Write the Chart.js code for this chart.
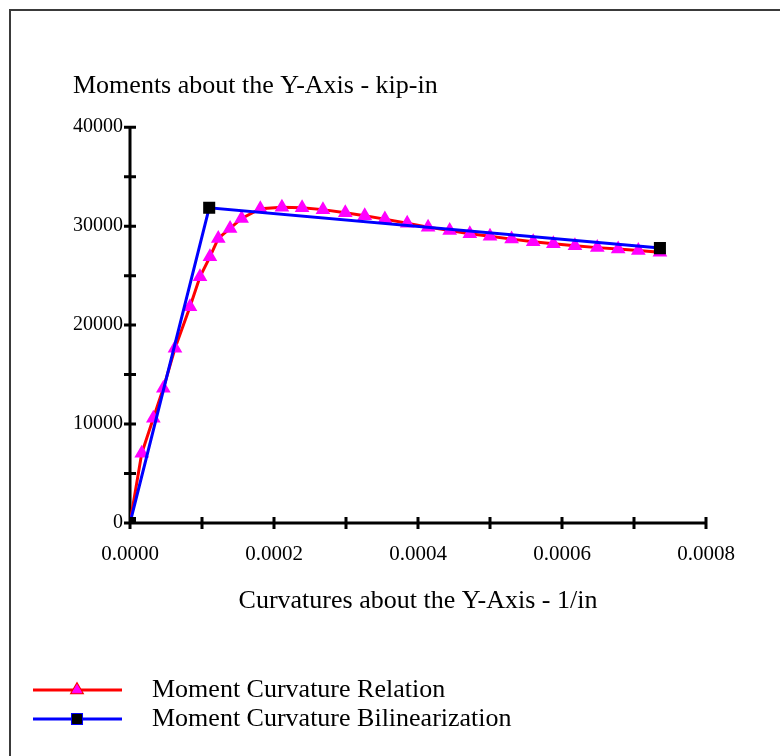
<!DOCTYPE html>
<html lang="en">
<head>
    <meta charset="UTF-8">
    <title>Moment Curvature - Y-Axis</title>
    <script src="https://cdn.jsdelivr.net/npm/chart.js"></script>
    <style>
        body { margin: 0; background: #fff; }
        .frame {
            position: absolute; left: 9px; top: 9px; width: 800px; height: 800px;
            border-left: 2px solid #3a3a3a; border-top: 2px solid #3a3a3a;
        }
        #momentChart { position: absolute; left: 0; top: 0; }
    </style>
</head>
<body>
<div class="frame"></div>
<canvas id="momentChart" width="780" height="756"></canvas>

<script>
    // curvature (1/in) and moment (kip-in)
    const relationCurvature = [0, 0.0000163, 0.0000324, 0.0000463, 0.0000625, 0.0000833, 0.0000972,
        0.000111, 0.0001226, 0.000139, 0.000155, 0.000181, 0.000211, 0.000239, 0.000268, 0.000299,
        0.000326, 0.000354, 0.000385, 0.000414, 0.000444, 0.000472, 0.0005, 0.00053, 0.00056,
        0.000588, 0.000618, 0.000649, 0.000678, 0.000706, 0.000736];
    const relationMoment = [0, 7040, 10580, 13610, 17650, 21850, 24880,
        26900, 28760, 29770, 30780, 31770, 31920, 31870, 31670, 31360,
        31060, 30710, 30300, 29900, 29550, 29240, 28990, 28690, 28430,
        28230, 28030, 27830, 27680, 27530, 27370];
    const bilinearCurvature = [0, 0.00011, 0.000736];
    const bilinearMoment = [0, 31850, 27780];

    const seriesNames = ['Moment Curvature Relation', 'Moment Curvature Bilinearization'];
    const xTitle = 'Curvatures about the Y-Axis - 1/in';
    const yTitle = 'Moments about the Y-Axis - kip-in';

    const serif = 'Liberation Serif';

    const toPoints = (xs, ys) => xs.map((x, i) => ({ x: x, y: ys[i] }));

    // axis lines with ticks crossing them, plus the legend at the bottom left
    const axesAndLegend = {
        id: 'axesAndLegend',
        beforeDatasetsDraw(chart) {
            const ctx = chart.ctx;
            const xs = chart.scales.x, ys = chart.scales.y;
            const a = chart.chartArea;
            ctx.save();
            ctx.strokeStyle = '#000';
            ctx.lineWidth = 3;
            ctx.beginPath();
            ctx.moveTo(a.left, a.top); ctx.lineTo(a.left, a.bottom);
            ctx.moveTo(a.left, a.bottom); ctx.lineTo(a.right, a.bottom);
            ys.ticks.forEach(t => {
                const py = ys.getPixelForValue(t.value);
                ctx.moveTo(a.left - 6, py); ctx.lineTo(a.left + 6, py);
            });
            xs.ticks.forEach(t => {
                const px = xs.getPixelForValue(t.value);
                ctx.moveTo(px, a.bottom - 6); ctx.lineTo(px, a.bottom + 6);
            });
            ctx.stroke();
            ctx.restore();
        },
        afterDraw(chart) {
            const ctx = chart.ctx;
            const rows = [690, 719];
            ctx.save();
            chart.data.datasets.forEach((ds, i) => {
                const y = rows[i];
                ctx.strokeStyle = ds.borderColor;
                ctx.lineWidth = ds.borderWidth;
                ctx.beginPath();
                ctx.moveTo(33, y); ctx.lineTo(122, y);
                ctx.stroke();
                Chart.helpers.drawPoint(ctx, {
                    pointStyle: ds.pointStyle, radius: ds.pointRadius,
                    borderWidth: 1, rotation: 0
                }, 77, y);
                ctx.fillStyle = ds.pointBackgroundColor;
                ctx.strokeStyle = ds.pointBorderColor;
                ctx.lineWidth = 1;
                ctx.fill(); ctx.stroke();
                ctx.fillStyle = '#000';
                ctx.font = '26px "' + serif + '"';
                ctx.textBaseline = 'middle';
                ctx.fillText(ds.label, 152, y);
            });
            ctx.restore();
        }
    };

    const chartConfig = {
        type: 'scatter',
        data: {
            datasets: [{
                label: seriesNames[0],
                data: toPoints(relationCurvature, relationMoment),
                showLine: true,
                borderColor: '#ff0000',
                borderWidth: 3,
                pointStyle: 'triangle',
                pointRadius: 5.5,
                pointBackgroundColor: '#ff00ff',
                pointBorderColor: '#ff00ff',
                order: 2
            }, {
                label: seriesNames[1],
                data: toPoints(bilinearCurvature, bilinearMoment),
                showLine: true,
                borderColor: '#0000ff',
                borderWidth: 3,
                pointStyle: 'rect',
                pointRadius: 6.4,
                pointBackgroundColor: '#000000',
                pointBorderColor: '#000000',
                order: 1
            }]
        },
        options: {
            responsive: false,
            animation: false,
            layout: { padding: { left: 73, right: 74, top: 0, bottom: 133 } },
            plugins: {
                legend: { display: false },
                tooltip: { enabled: false },
                title: {
                    display: true,
                    text: yTitle,
                    align: 'start',
                    color: '#000',
                    font: { family: serif, size: 26, weight: 'normal' },
                    padding: { top: 71, bottom: 25 }
                }
            },
            scales: {
                x: {
                    type: 'linear',
                    min: 0,
                    max: 0.0008,
                    grid: { display: false, drawTicks: false },
                    border: { display: false },
                    afterFit: s => { s.height = 100; },
                    ticks: {
                        stepSize: 0.0001,
                        padding: 19,
                        color: '#000',
                        maxRotation: 0,
                        autoSkip: false,
                        font: { family: serif, size: 21 },
                        callback: v => Math.round(v / 0.0001) % 2 === 0 ? v.toFixed(4) : ''
                    },
                    title: {
                        display: true,
                        text: xTitle,
                        color: '#000',
                        font: { family: serif, size: 26 },
                        padding: { top: 0, bottom: 6 }
                    }
                },
                y: {
                    type: 'linear',
                    min: 0,
                    max: 40000,
                    grid: { display: false, drawTicks: false },
                    border: { display: false },
                    afterFit: s => { s.width = 57; },
                    ticks: {
                        stepSize: 5000,
                        padding: 7,
                        color: '#000',
                        autoSkip: false,
                        font: { family: serif, size: 20 },
                        callback: v => v % 10000 === 0 ? String(v) : ''
                    }
                }
            }
        },
        plugins: [axesAndLegend]
    };

    const momentChart = new Chart(document.getElementById('momentChart').getContext('2d'), chartConfig);
</script>
</body>
</html>
